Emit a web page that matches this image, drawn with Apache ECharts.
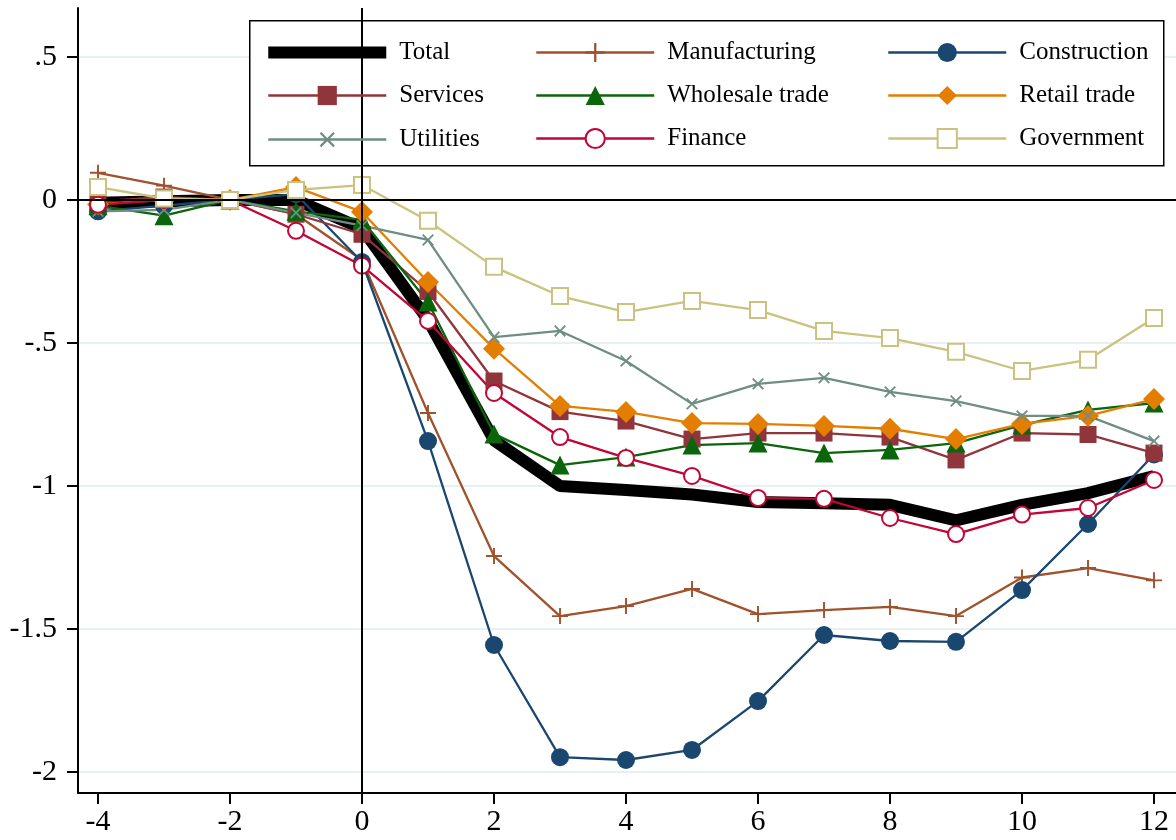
<!DOCTYPE html>
<html>
<head>
<meta charset="utf-8">
<script src="https://cdn.jsdelivr.net/npm/echarts@6/dist/echarts.min.js"></script>
<style>html,body{margin:0;padding:0;background:#fff}#c{width:1176px;height:840px}</style>
</head>
<body>
<div id="c"></div>
<script>
const periods = [-4,-3,-2,-1,0,1,2,3,4,5,6,7,8,9,10,11,12];
const total         = [-0.01,-0.005,0,0,-0.1,-0.42,-0.84,-1.0,-1.014,-1.03,-1.056,-1.06,-1.066,-1.12,-1.066,-1.025,-0.965];
const manufacturing = [0.095,0.05,0,-0.05,-0.21,-0.745,-1.245,-1.455,-1.42,-1.36,-1.448,-1.434,-1.423,-1.455,-1.32,-1.287,-1.33];
const construction  = [-0.04,-0.02,0,0.02,-0.217,-0.843,-1.556,-1.948,-1.958,-1.923,-1.752,-1.521,-1.542,-1.545,-1.364,-1.133,-0.89];
const services      = [-0.005,0.01,0,-0.05,-0.12,-0.32,-0.633,-0.74,-0.773,-0.836,-0.815,-0.815,-0.829,-0.909,-0.815,-0.82,-0.885];
const wholesale     = [-0.02,-0.055,0,-0.04,-0.07,-0.357,-0.818,-0.927,-0.899,-0.857,-0.85,-0.885,-0.874,-0.85,-0.787,-0.734,-0.71];
const retail        = [-0.015,0.0,0,0.045,-0.042,-0.287,-0.52,-0.72,-0.741,-0.78,-0.783,-0.79,-0.80,-0.836,-0.783,-0.755,-0.696];
const utilities     = [-0.04,-0.035,0,-0.045,-0.09,-0.14,-0.48,-0.458,-0.563,-0.713,-0.643,-0.622,-0.671,-0.703,-0.755,-0.755,-0.843];
const finance       = [-0.017,0.0,0,-0.108,-0.23,-0.423,-0.675,-0.829,-0.902,-0.965,-1.042,-1.045,-1.112,-1.168,-1.10,-1.077,-0.979];
const government    = [0.045,0.005,0,0.035,0.052,-0.073,-0.234,-0.336,-0.392,-0.353,-0.385,-0.458,-0.483,-0.531,-0.598,-0.559,-0.413];
const xTicks = [-4,-2,0,2,4,6,8,10,12];
const yTicks = [-2,-1.5,-1,-0.5,0,0.5];
const yTickLabels = ['-2','-1.5','-1','-.5','0','.5'];

const FONT = 'Liberation Serif';
const plusPath = 'path://M-0.12,-1 L0.12,-1 L0.12,-0.12 L1,-0.12 L1,0.12 L0.12,0.12 L0.12,1 L-0.12,1 L-0.12,0.12 L-1,0.12 L-1,-0.12 L-0.12,-0.12 Z';
const barIcon = 'path://M0,6 L118,6 L118,18 L0,18 Z M0,0 L0.01,0 M0,24 L0.01,24';

function pairs(vals){ return periods.map((p,i)=>[p, vals[i]]); }

const defs = [
  {name:'Total', data:total, color:'#000000', width:12, symbol:'none'},
  {name:'Manufacturing', data:manufacturing, color:'#a0522d', width:2.3, symbol:plusPath, size:16},
  {name:'Construction', data:construction, color:'#1a476f', width:2.3, symbol:'circle', size:18},
  {name:'Services', data:services, color:'#90353b', width:2.3, symbol:'rect', size:17},
  {name:'Wholesale trade', data:wholesale, color:'#0b650b', width:2.3, symbol:'triangle', size:19},
  {name:'Retail trade', data:retail, color:'#e37e00', width:2.3, symbol:'diamond', size:22},
  {name:'Utilities', data:utilities, color:'#6e8e84', width:2.3, symbol:plusPath, size:15, rotate:45},
  {name:'Finance', data:finance, color:'#c10534', width:2.3, symbol:'emptyCircle', size:16, hollow:true},
  {name:'Government', data:government, color:'#cac27e', width:2.3, symbol:'emptyRect', size:16, hollow:true}
];

const series = [{
  type:'line', data:[], silent:true, z:1,
  markLine:{silent:true, symbol:'none', label:{show:false},
    lineStyle:{color:'#000', width:2, type:'solid'},
    data:[{yAxis:0},{xAxis:0}]}
}];
defs.forEach(d=>{
  const s = {
    type:'line', name:d.name, data:pairs(d.data), z:2,
    lineStyle:{color:d.color, width:d.width},
    itemStyle:{color:d.color},
    symbol:d.symbol, symbolSize:d.size||0, showSymbol:d.symbol!=='none',
    animation:false
  };
  if(d.rotate) s.symbolRotate = d.rotate;
  if(d.hollow) s.itemStyle = {color:d.color, borderColor:d.color, borderWidth:2.5};
  series.push(s);
});

const legendBase = {
  orient:'vertical', itemWidth:118, itemHeight:24, itemGap:18, top:35, z:10,
  textStyle:{fontFamily:FONT, fontSize:25, color:'#000', padding:[0,0,0,8]},
  lineStyle:{width:2.5}
};
const chart = echarts.init(document.getElementById('c'), null, {renderer:'canvas'});
chart.setOption({
  backgroundColor:'#fff',
  animation:false,
  grid:{left:78, top:8, right:0, bottom:47, containLabel:false},
  xAxis:{type:'value', min:-4.303, max:12.333,
    axisLine:{show:true, onZero:false, lineStyle:{color:'#000', width:2}},
    axisTick:{show:true, length:11, lineStyle:{color:'#000', width:2}, customValues:xTicks},
    axisLabel:{customValues:xTicks, fontFamily:FONT, fontSize:30, color:'#000', margin:14},
    splitLine:{show:false}},
  yAxis:{type:'value', min:-2.0734, max:0.671,
    axisLine:{show:true, onZero:false, lineStyle:{color:'#000', width:2}},
    axisTick:{show:true, length:11, lineStyle:{color:'#000', width:2}, customValues:yTicks},
    axisLabel:{customValues:yTicks, fontFamily:FONT, fontSize:30, color:'#000', margin:21,
      formatter:(v)=>{const i=yTicks.findIndex(t=>Math.abs(t-v)<1e-6); return i>=0?yTickLabels[i]:'';}},
    splitLine:{show:true, lineStyle:{color:'#e8f0f2', width:2}}},
  graphic:[{type:'rect', left:249, top:20, z:3, silent:true,
    shape:{width:914, height:145}, style:{fill:'#fff', stroke:'#000', lineWidth:1.5}}],
  legend:[
    Object.assign({}, legendBase, {left:262, data:[{name:'Total', icon:barIcon},'Services','Utilities']}),
    Object.assign({}, legendBase, {left:530, data:['Manufacturing','Wholesale trade','Finance']}),
    Object.assign({}, legendBase, {left:882, data:['Construction','Retail trade','Government']})
  ],
  series:series
});
</script>
</body>
</html>
